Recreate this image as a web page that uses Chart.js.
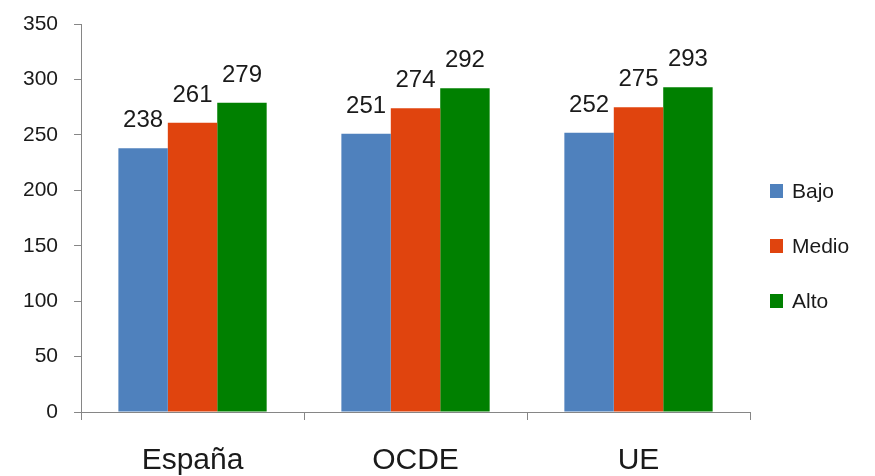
<!DOCTYPE html>
<html>
<head>
<meta charset="utf-8">
<title>Bajo / Medio / Alto</title>
<script src="https://cdn.jsdelivr.net/npm/chart.js@4.4.1/dist/chart.umd.min.js"></script>
<style>
    html, body { margin: 0; padding: 0; background: #fff; }
    #wrap { width: 875px; height: 476px; position: relative; }
</style>
</head>
<body>
<div id="wrap"><canvas id="chart"></canvas></div>
<script>
// data
const categories = ['España', 'OCDE', 'UE'];
const seriesNames = ['Bajo', 'Medio', 'Alto'];
const bajo = [238, 251, 252];
const medio = [261, 274, 275];
const alto = [279, 292, 293];
const yMin = 0;
const yMax = 350;
const yStep = 50;

const seriesColors = ['#4f81bd', '#e0440e', '#008000'];
const axisColor = '#868686';
const textColor = '#1a1a1a';

Chart.defaults.font.family = "'Liberation Sans', Arial, sans-serif";
Chart.defaults.color = textColor;

// value on top of each bar
const barLabels = {
    id: 'barLabels',
    afterDatasetsDraw(chart) {
        const ctx = chart.ctx;
        ctx.save();
        ctx.font = "24px 'Liberation Sans', Arial, sans-serif";
        ctx.fillStyle = textColor;
        ctx.textAlign = 'center';
        ctx.textBaseline = 'alphabetic';
        chart.data.datasets.forEach((ds, i) => {
            chart.getDatasetMeta(i).data.forEach((bar, j) => {
                ctx.fillText(ds.data[j], bar.x, bar.y - 21);
            });
        });
        ctx.restore();
    }
};

// legend to the right of the plot, one entry per series
const sideLegend = {
    id: 'sideLegend',
    afterDraw(chart) {
        const ctx = chart.ctx;
        const x = chart.chartArea.right + 20;
        let y = 191;
        ctx.save();
        ctx.font = "21px 'Liberation Sans', Arial, sans-serif";
        ctx.textBaseline = 'middle';
        ctx.textAlign = 'left';
        chart.data.datasets.forEach((ds) => {
            ctx.fillStyle = ds.backgroundColor;
            ctx.fillRect(x, y - 7, 13, 14);
            ctx.fillStyle = textColor;
            ctx.fillText(ds.label, x + 22, y + 1);
            y += 55;
        });
        ctx.restore();
    }
};

const seriesValues = [bajo, medio, alto];

new Chart(document.getElementById('chart'), {
    type: 'bar',
    data: {
        labels: categories,
        datasets: seriesNames.map((name, i) => ({
            label: name,
            data: seriesValues[i],
            backgroundColor: seriesColors[i],
            borderWidth: 0,
            categoryPercentage: 0.665,
            barPercentage: 1.0
        }))
    },
    options: {
        responsive: true,
        maintainAspectRatio: false,
        animation: false,
        layout: {
            padding: { top: 0, right: 125, bottom: -26, left: 7 }
        },
        plugins: {
            legend: { display: false },
            tooltip: { enabled: false }
        },
        scales: {
            x: {
                grid: {
                    offset: true,
                    drawOnChartArea: false,
                    tickLength: 8,
                    color: axisColor
                },
                border: { color: axisColor, width: 1 },
                ticks: {
                    padding: 23,
                    color: textColor,
                    font: { size: 30 }
                }
            },
            y: {
                min: yMin,
                max: yMax,
                // tick padding also pads the top; keep the 350 line near the edge
                afterFit(scale) {
                    scale.paddingTop = 24;
                },
                grid: {
                    drawOnChartArea: false,
                    tickLength: 7,
                    color: axisColor
                },
                border: { color: axisColor, width: 1 },
                ticks: {
                    stepSize: yStep,
                    padding: 16,
                    color: textColor,
                    font: { size: 21 }
                }
            }
        }
    },
    plugins: [barLabels, sideLegend]
});
</script>
</body>
</html>
